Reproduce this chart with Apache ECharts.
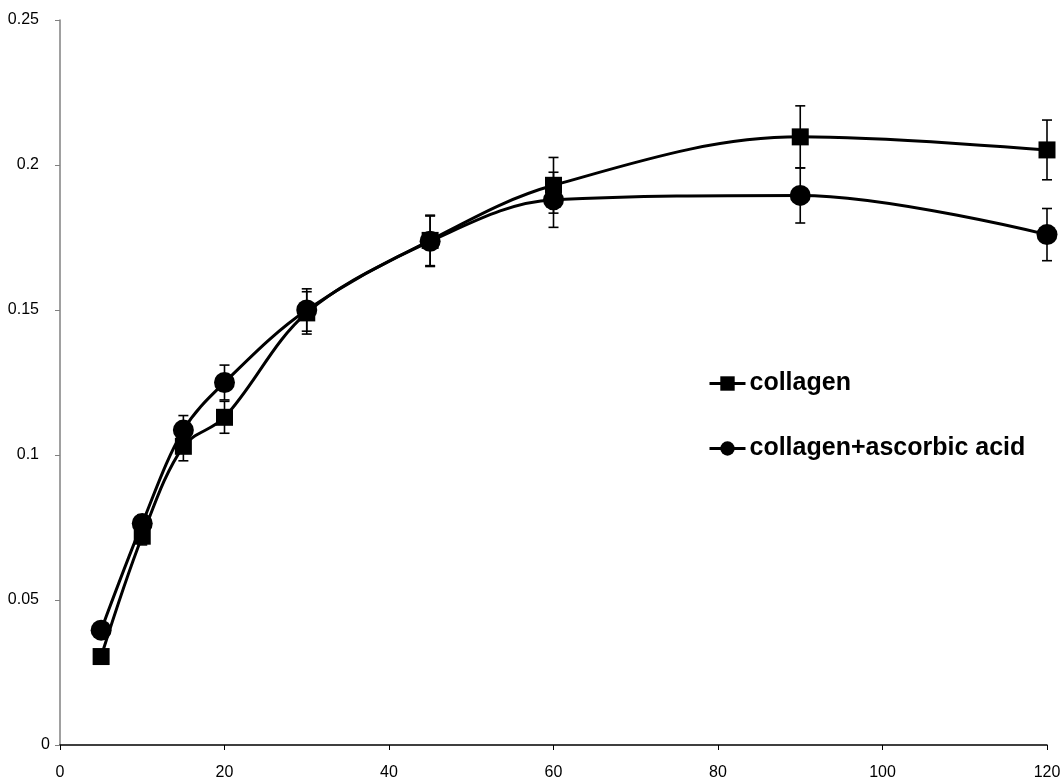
<!DOCTYPE html>
<html>
<head>
<meta charset="utf-8">
<script src="https://cdn.jsdelivr.net/npm/echarts@6/dist/echarts.min.js"></script>
<style>
html,body{margin:0;padding:0;background:#fff;}
#chart{width:1064px;height:781px;}
</style>
</head>
<body>
<div id="chart"></div>
<script>
const xValues = [5, 10, 15, 20, 30, 45, 60, 90, 120];
const collagen = [0.0305, 0.072, 0.103, 0.113, 0.149, 0.174, 0.193, 0.2097, 0.2052];
const collagenErr = [0, 0.003, 0.005, 0.0055, 0.0073, 0.0087, 0.0096, 0.0107, 0.0103];
const ascorbic = [0.0396, 0.0764, 0.1086, 0.125, 0.150, 0.1737, 0.188, 0.1895, 0.176];
const ascorbicErr = [0, 0.003, 0.005, 0.006, 0.0073, 0.0087, 0.0095, 0.0095, 0.009];
const seriesNames = ['collagen', 'collagen+ascorbic acid'];

const pairs = (vals) => xValues.map((x, i) => [x, vals[i]]);
const errData = (vals, errs) => xValues.map((x, i) => [x, vals[i], errs[i]]);

function errRender(params, api) {
  const x = api.value(0), y = api.value(1), e = api.value(2);
  if (!e) return null;
  const top = api.coord([x, y + e]);
  const bot = api.coord([x, y - e]);
  const hw = 5;
  const style = { stroke: '#000', lineWidth: 1.6 };
  return {
    type: 'group',
    children: [
      { type: 'line', shape: { x1: top[0], y1: top[1], x2: bot[0], y2: bot[1] }, style },
      { type: 'line', shape: { x1: top[0] - hw, y1: top[1], x2: top[0] + hw, y2: top[1] }, style },
      { type: 'line', shape: { x1: bot[0] - hw, y1: bot[1], x2: bot[0] + hw, y2: bot[1] }, style }
    ]
  };
}

const FONT = 'Liberation Sans, Arial, sans-serif';
const chart = echarts.init(document.getElementById('chart'));
chart.setOption({
  animation: false,
  backgroundColor: '#fff',
  grid: { left: 60, right: 17, top: 20, bottom: 35, containLabel: false },
  legend: {
    orient: 'vertical',
    left: 703,
    top: 366,
    itemGap: 40,
    itemWidth: 36,
    itemHeight: 18,
    lineStyle: { width: 3 },
    data: seriesNames,
    textStyle: { fontFamily: FONT, fontWeight: 'bold', fontSize: 25, color: '#000', padding: [0, 0, 0, -1] }
  },
  xAxis: {
    type: 'value',
    min: 0, max: 120, interval: 20,
    splitLine: { show: false },
    axisLine: { lineStyle: { color: '#000', width: 1.5 } },
    axisTick: { show: true, length: 5, lineStyle: { color: '#000' } },
    axisLabel: { color: '#000', fontSize: 16, fontFamily: FONT, margin: 20 }
  },
  yAxis: {
    type: 'value',
    min: 0, max: 0.25, interval: 0.05,
    splitLine: { show: false },
    axisLine: { show: true, lineStyle: { color: '#808080', width: 1.5 } },
    axisTick: { show: true, length: 5, lineStyle: { color: '#808080' } },
    axisLabel: {
      color: '#000', fontSize: 16, fontFamily: FONT, margin: 10,
      formatter: (v) => v === 0 ? '{z|0}' : '{n|' + v + '}',
      rich: {
        n: { fontSize: 16, fontFamily: FONT, color: '#000', padding: [0, 11, 0, 0] },
        z: { fontSize: 16, fontFamily: FONT, color: '#000' }
      }
    }
  },
  series: [
    {
      type: 'custom', name: 'errC', renderItem: errRender, data: errData(collagen, collagenErr), z: 1, silent: true
    },
    {
      type: 'custom', name: 'errA', renderItem: errRender, data: errData(ascorbic, ascorbicErr), z: 1, silent: true
    },
    {
      name: seriesNames[0], type: 'line', data: pairs(collagen), smooth: 0.35,
      symbol: 'rect', symbolSize: 17, showAllSymbol: true,
      lineStyle: { color: '#000', width: 3 }, itemStyle: { color: '#000' }, z: 3
    },
    {
      name: seriesNames[1], type: 'line', data: pairs(ascorbic), smooth: 0.35,
      symbol: 'circle', symbolSize: 21, showAllSymbol: true,
      lineStyle: { color: '#000', width: 3 }, itemStyle: { color: '#000' }, z: 3
    }
  ]
});
</script>
</body>
</html>
